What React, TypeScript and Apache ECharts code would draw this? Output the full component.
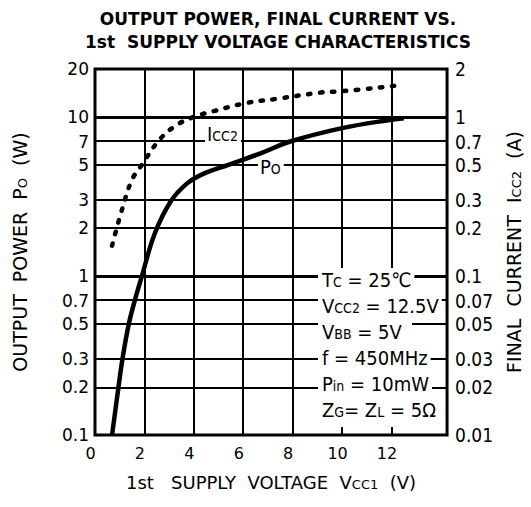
import React, { useEffect, useRef } from "react";
import * as echarts from "echarts";

// ---- text ----
const titleText = "OUTPUT POWER, FINAL CURRENT VS.\n1st  SUPPLY VOLTAGE CHARACTERISTICS";
const xName = "1st   SUPPLY  VOLTAGE  V{s|CC1}  (V)";
const leftName = "OUTPUT  POWER  P{s|O}  (W)";
const rightName = "FINAL  CURRENT  I{s|CC2}  (A)";
const conditions = [
  "T{s|C} = 25℃",
  "V{s|CC2} = 12.5V",
  "V{s|BB} = 5V",
  "f = 450MHz",
  "P{s|in} = 10mW",
  "Z{s|G}= Z{s|L} = 5Ω",
];
const iccLabel = "I{s|CC2}";
const poLabel = "P{s|O}";

// ---- ticks ----
const vccTicks = [0, 2, 4, 6, 8, 10, 12];
const powerTicks = [0.1, 0.2, 0.3, 0.5, 0.7, 1, 2, 3, 5, 7, 10, 20];
const powerTickLabels = ["0.1", "0.2", "0.3", "0.5", "0.7", "1", "2", "3", "5", "7", "10", "20"];
const currentTicks = [0.01, 0.02, 0.03, 0.05, 0.07, 0.1, 0.2, 0.3, 0.5, 0.7, 1, 2];
const currentTickLabels = ["0.01", "0.02", "0.03", "0.05", "0.07", "0.1", "0.2", "0.3", "0.5", "0.7", "1", "2"];

// grid lines
const minorPowerGrid = [0.2, 0.3, 0.5, 0.7, 2, 3, 5, 7];
const majorPowerGrid = [1, 10];
const vccGrid = [2, 4, 6, 8, 10, 12];

// ---- series data ----
const poVcc = [0.69, 0.95, 1.11, 1.37, 1.61, 1.9, 2.42, 3.07, 3.73, 4.4, 5.4, 6.7, 7.9, 10.0, 12.0, 12.5];
const poWatts = [0.1, 0.2, 0.3, 0.5, 0.7, 1.0, 1.85, 2.95, 3.82, 4.4, 5.0, 5.9, 7.0, 8.5, 9.6, 9.8];

const iccVcc = [0.69, 1.11, 1.5, 1.9, 2.55, 3.2, 4.0, 4.84, 6.09, 7.38, 9.1, 10.0, 12.17];
const iccAmps = [0.155, 0.267, 0.403, 0.5, 0.7, 0.867, 1.0, 1.09, 1.22, 1.3, 1.42, 1.45, 1.57];

const L = (v: number) => Math.log10(v);

const lookup = (ticks: number[], labels: string[]) => (value: number) => {
  const i = ticks.findIndex((t) => Math.abs(L(t) - value) < 1e-6);
  return i >= 0 ? labels[i] : "";
};

const COND_FONT = "'DejaVu Sans Condensed', 'DejaVu Sans', sans-serif";
const PLAIN_FONT = "'DejaVu Sans', sans-serif";

export default function App() {
  const ref = useRef<HTMLDivElement>(null);
  useEffect(() => {
    if (!ref.current) return;
    const chart = echarts.init(ref.current, undefined, { renderer: "svg" });
    const subRich = { s: { fontSize: 13, fontFamily: PLAIN_FONT, verticalAlign: "bottom", color: "#000" } };
    const condRich = { s: { fontSize: 14, fontFamily: COND_FONT, verticalAlign: "bottom", color: "#000", lineHeight: 18 } };

    const textLabel = (t: string, x: number, y: number) => ({
      type: "text",
      z: 51,
      x,
      y,
      style: {
        text: t,
        rich: condRich,
        fontSize: 20,
        lineHeight: 18,
        fontFamily: COND_FONT,
        fill: "#000",
        verticalAlign: "middle",
        backgroundColor: "#fff",
        padding: [0, 3, 0, 2],
      },
    });

    const option: any = {
      animation: false,
      backgroundColor: "#fff",
      title: {
        text: titleText,
        left: 273,
        top: 2,
        textAlign: "center",
        textStyle: { fontSize: 17, fontWeight: "bold", fontFamily: PLAIN_FONT, color: "#000", lineHeight: 23 },
      },
      grid: {
        left: 95,
        right: 73,
        top: 69,
        bottom: 72,
        show: true,
        borderColor: "#000",
        borderWidth: 3,
        backgroundColor: "transparent",
      },
      xAxis: {
        type: "value",
        min: 0,
        max: 14.25,
        axisLine: { show: false },
        axisTick: { show: false },
        splitLine: { show: false },
        axisLabel: {
          customValues: vccTicks,
          margin: 10,
          fontSize: 16,
          fontFamily: PLAIN_FONT,
          color: "#000",
          padding: [0, 9, 0, 0],
        },
        name: xName,
        nameLocation: "middle",
        nameGap: 38,
        nameTextStyle: { fontSize: 18, fontFamily: PLAIN_FONT, color: "#000", rich: subRich },
      },
      yAxis: [
        {
          type: "value",
          min: -1,
          max: L(20),
          position: "left",
          axisLine: { show: false },
          axisTick: { show: false },
          splitLine: { show: false },
          axisLabel: {
            customValues: powerTicks.map(L),
            formatter: lookup(powerTicks, powerTickLabels),
            margin: 6,
            fontSize: 17,
            fontFamily: PLAIN_FONT,
            color: "#000",
          },
          name: leftName,
          nameLocation: "middle",
          nameRotate: 90,
          nameGap: 66,
          nameTextStyle: { fontSize: 19, fontFamily: PLAIN_FONT, color: "#000", rich: subRich },
        },
        {
          type: "value",
          min: -2,
          max: L(2),
          position: "right",
          axisLine: { show: false },
          axisTick: { show: false },
          splitLine: { show: false },
          axisLabel: {
            customValues: currentTicks.map(L),
            formatter: lookup(currentTicks, currentTickLabels),
            margin: 8,
            fontSize: 19,
            fontFamily: COND_FONT,
            color: "#000",
          },
          name: rightName,
          nameLocation: "middle",
          nameRotate: 90,
          nameGap: 53,
          nameTextStyle: { fontSize: 19, fontFamily: PLAIN_FONT, color: "#000", rich: subRich },
        },
      ],
      series: [
        {
          type: "line",
          name: "grid",
          data: [],
          z: 1,
          silent: true,
          markLine: {
            silent: true,
            symbol: ["none", "none"],
            label: { show: false },
            lineStyle: { color: "#000", width: 2, type: "solid" },
            emphasis: { disabled: true },
            data: [
              ...minorPowerGrid.map((v) => ({ yAxis: L(v) })),
              ...majorPowerGrid.map((v) => ({ yAxis: L(v), lineStyle: { color: "#000", width: 3, type: "solid" } })),
              ...vccGrid.map((v) => ({ xAxis: v })),
            ],
          },
        },
        {
          type: "line",
          name: "Po",
          yAxisIndex: 0,
          data: poVcc.map((x, i) => [x, L(poWatts[i])]),
          symbol: "none",
          smooth: 0.4,
          z: 5,
          lineStyle: { color: "#000", width: 4.5 },
        },
        {
          type: "line",
          name: "Icc2",
          yAxisIndex: 1,
          data: iccVcc.map((x, i) => [x, L(iccAmps[i])]),
          symbol: "none",
          smooth: 0.4,
          z: 5,
          lineStyle: { color: "#000", width: 4.5, type: [2.5, 9.5], cap: "round" },
        },
      ],
      graphic: [
        {
          type: "rect",
          z: 50,
          shape: { x: 318, y: 268, width: 94, height: 159 },
          style: { fill: "#fff" },
        },
        ...conditions.map((t, i) => textLabel(t, 320, 280 + i * 26)),
        textLabel(iccLabel, 205, 134),
        textLabel(poLabel, 258, 167),
      ],
    };
    chart.setOption(option);
    return () => chart.dispose();
  }, []);
  return (
    <div
      ref={ref}
      style={{ position: "fixed", left: 0, top: 0, width: 531, height: 507, background: "#fff" }}
    />
  );
}
